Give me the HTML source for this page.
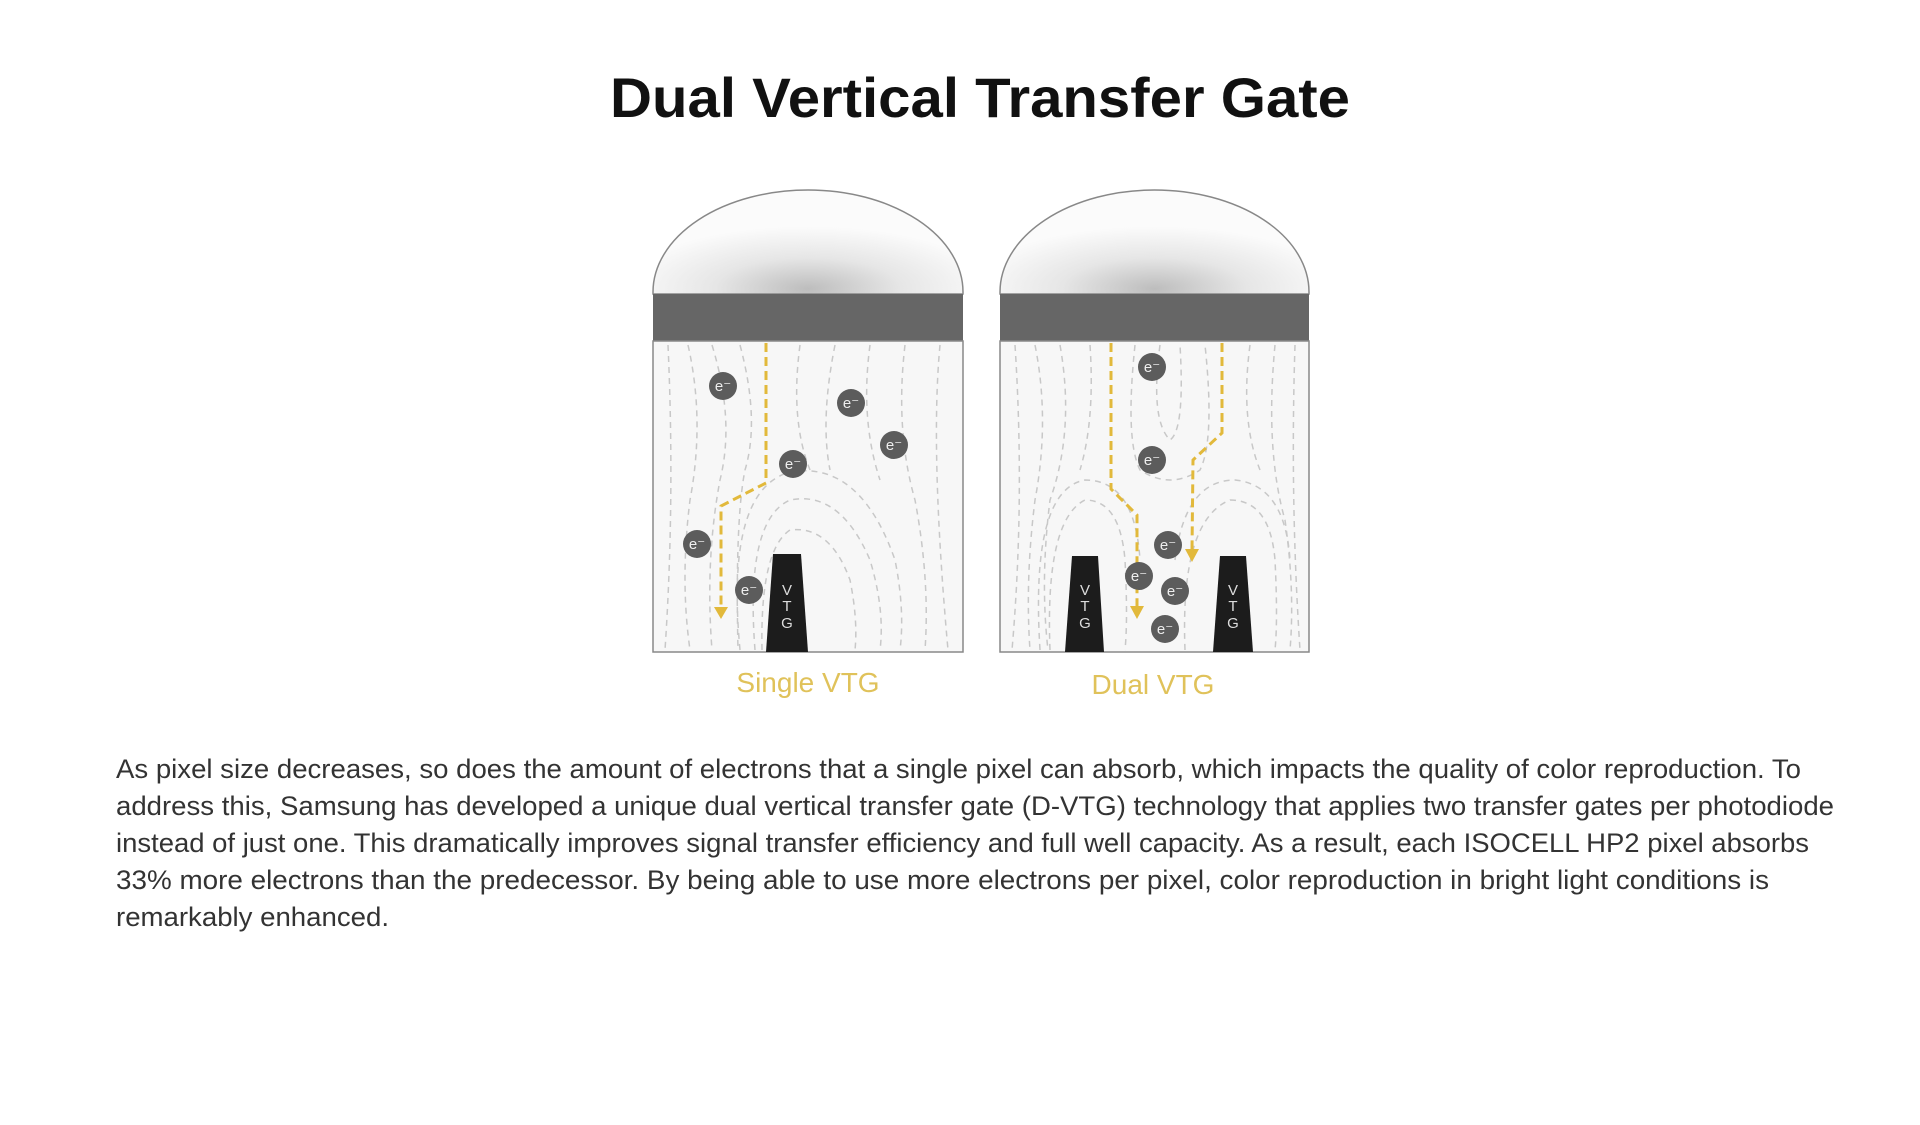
<!DOCTYPE html>
<html><head><meta charset="utf-8"><style>
html,body{margin:0;padding:0;background:#fff;}
svg{display:block}
</style></head><body>
<svg width="1920" height="1125" viewBox="0 0 1920 1125" xmlns="http://www.w3.org/2000/svg">
<defs>
<radialGradient id="dome" cx="0.5" cy="0.95" r="0.6">
<stop offset="0" stop-color="#bdbdbd"/><stop offset="0.5" stop-color="#e6e6e6"/><stop offset="1" stop-color="#fbfbfb"/>
</radialGradient>
</defs>
<text x="980" y="117" text-anchor="middle" font-family="Liberation Sans, sans-serif" font-weight="bold" font-size="56" fill="#111" textLength="740" lengthAdjust="spacingAndGlyphs">Dual Vertical Transfer Gate</text>

<!-- Left pixel -->
<g>
<path d="M653 294 L653 292 A155 102 0 0 1 963 292 L963 294 Z" fill="url(#dome)" stroke="#888" stroke-width="1.5"/>
<rect x="653" y="294" width="310" height="47" fill="#666"/>
<rect x="653" y="341" width="310" height="311" fill="#f7f7f7" stroke="#888" stroke-width="1.5"/>
<g fill="none" stroke="#c8c8c8" stroke-width="1.5" stroke-dasharray="6 5">
<path d="M668 345 Q675 500 665 650"/>
<path d="M688 345 Q705 420 690 500 Q680 580 690 650"/>
<path d="M712 345 Q735 420 720 480 Q705 560 712 650"/>
<path d="M740 345 Q760 420 745 470 Q735 520 738 650"/>
<path d="M800 345 Q790 420 810 470"/>
<path d="M835 345 Q820 420 830 470"/>
<path d="M870 345 Q860 420 880 480"/>
<path d="M905 345 Q895 430 915 500 Q930 580 925 650"/>
<path d="M940 345 Q930 450 948 650"/>
<path d="M755 650 Q745 520 790 500 Q840 490 870 560 Q885 610 880 650"/>
<path d="M740 650 Q725 490 790 472 Q860 460 895 560 Q905 610 900 650"/>
<path d="M762 650 Q760 550 790 530 Q830 525 850 580 Q858 620 855 650"/>
</g>
<path d="M773 554 L801 554 L808 652 L766 652 Z" fill="#1c1c1c" stroke-linejoin="round"/>
<text font-family="Liberation Sans, sans-serif" font-size="15" fill="#ddd" text-anchor="middle"><tspan x="787" y="595">V</tspan><tspan x="787" y="611">T</tspan><tspan x="787" y="628">G</tspan></text>
<path d="M766 343 L766 483 L721 506 L721 610" fill="none" stroke="#e2b93b" stroke-width="3" stroke-dasharray="9 5"/>
<path d="M714 607 L728 607 L721 619 Z" fill="#e2b93b"/>
</g>

<!-- Right pixel -->
<g>
<path d="M1000 294 L1000 292 A154.5 102 0 0 1 1309 292 L1309 294 Z" fill="url(#dome)" stroke="#888" stroke-width="1.5"/>
<rect x="1000" y="294" width="309" height="47" fill="#666"/>
<rect x="1000" y="341" width="309" height="311" fill="#f7f7f7" stroke="#888" stroke-width="1.5"/>
<g fill="none" stroke="#c8c8c8" stroke-width="1.5" stroke-dasharray="6 5">
<path d="M1015 345 Q1025 500 1012 650"/>
<path d="M1035 345 Q1050 420 1035 500 Q1025 580 1030 650"/>
<path d="M1060 345 Q1075 430 1050 500 Q1040 580 1048 650"/>
<path d="M1090 345 Q1095 420 1080 470"/>
<path d="M1135 345 Q1125 440 1140 470 Q1170 490 1200 470 Q1215 440 1205 345"/>
<path d="M1160 345 Q1150 420 1170 440 Q1185 430 1180 345"/>
<path d="M1250 345 Q1240 420 1260 470"/>
<path d="M1275 345 Q1265 450 1285 520 Q1295 590 1290 650"/>
<path d="M1295 345 Q1290 500 1300 650"/>
<path d="M1050 650 Q1045 520 1085 500 Q1120 500 1125 560 Q1128 620 1125 650"/>
<path d="M1040 650 Q1030 490 1085 480 Q1135 480 1140 560"/>
<path d="M1185 650 Q1180 520 1230 500 Q1270 500 1275 560 Q1278 620 1275 650"/>
<path d="M1175 560 Q1185 480 1235 480 Q1285 485 1290 560"/>
</g>
<path d="M1072 556 L1098 556 L1104 652 L1065 652 Z" fill="#1c1c1c"/>
<path d="M1220 556 L1246 556 L1253 652 L1213 652 Z" fill="#1c1c1c"/>
<text font-family="Liberation Sans, sans-serif" font-size="15" fill="#ddd" text-anchor="middle"><tspan x="1085" y="595">V</tspan><tspan x="1085" y="611">T</tspan><tspan x="1085" y="628">G</tspan><tspan x="1233" y="595">V</tspan><tspan x="1233" y="611">T</tspan><tspan x="1233" y="628">G</tspan></text>
<path d="M1111 343 L1111 489 L1137 515 L1137 608" fill="none" stroke="#e2b93b" stroke-width="3" stroke-dasharray="9 5"/>
<path d="M1130 606 L1144 606 L1137 619 Z" fill="#e2b93b"/>
<path d="M1222 343 L1222 433 L1193 460 L1192 550" fill="none" stroke="#e2b93b" stroke-width="3" stroke-dasharray="9 5"/>
<path d="M1185 549 L1199 549 L1192 562 Z" fill="#e2b93b"/>
</g>

<!-- electrons -->
<g font-family="Liberation Sans, sans-serif" font-size="15" fill="#eee" text-anchor="middle">
<g fill="#5c5c5c">
<circle cx="723" cy="386" r="14"/><circle cx="851" cy="403" r="14"/><circle cx="894" cy="445" r="14"/><circle cx="793" cy="464" r="14"/><circle cx="697" cy="544" r="14"/><circle cx="749" cy="590" r="14"/>
<circle cx="1152" cy="367" r="14"/><circle cx="1152" cy="460" r="14"/><circle cx="1168" cy="545" r="14"/><circle cx="1139" cy="576" r="14"/><circle cx="1175" cy="591" r="14"/><circle cx="1165" cy="629" r="14"/>
</g>
<text x="723" y="391">e⁻</text><text x="851" y="408">e⁻</text><text x="894" y="450">e⁻</text><text x="793" y="469">e⁻</text><text x="697" y="549">e⁻</text><text x="749" y="595">e⁻</text>
<text x="1152" y="372">e⁻</text><text x="1152" y="465">e⁻</text><text x="1168" y="550">e⁻</text><text x="1139" y="581">e⁻</text><text x="1175" y="596">e⁻</text><text x="1165" y="634">e⁻</text>
</g>

<text x="808" y="692" text-anchor="middle" font-family="Liberation Sans, sans-serif" font-size="28" fill="#e0c25a">Single VTG</text>
<text x="1153" y="694" text-anchor="middle" font-family="Liberation Sans, sans-serif" font-size="28" fill="#e0c25a">Dual VTG</text>

<g font-family="Liberation Sans Narrow, Liberation Sans, sans-serif" font-size="27" fill="#333" lengthAdjust="spacingAndGlyphs">
<text x="116" y="778" textLength="1685" lengthAdjust="spacingAndGlyphs">As pixel size decreases, so does the amount of electrons that a single pixel can absorb, which impacts the quality of color reproduction. To</text>
<text x="116" y="815" textLength="1718" lengthAdjust="spacingAndGlyphs">address this, Samsung has developed a unique dual vertical transfer gate (D-VTG) technology that applies two transfer gates per photodiode</text>
<text x="116" y="852" textLength="1693" lengthAdjust="spacingAndGlyphs">instead of just one. This dramatically improves signal transfer efficiency and full well capacity. As a result, each ISOCELL HP2 pixel absorbs</text>
<text x="116" y="889" textLength="1653" lengthAdjust="spacingAndGlyphs">33% more electrons than the predecessor. By being able to use more electrons per pixel, color reproduction in bright light conditions is</text>
<text x="116" y="926" textLength="273" lengthAdjust="spacingAndGlyphs">remarkably enhanced.</text>
</g>
</svg>
</body></html>
